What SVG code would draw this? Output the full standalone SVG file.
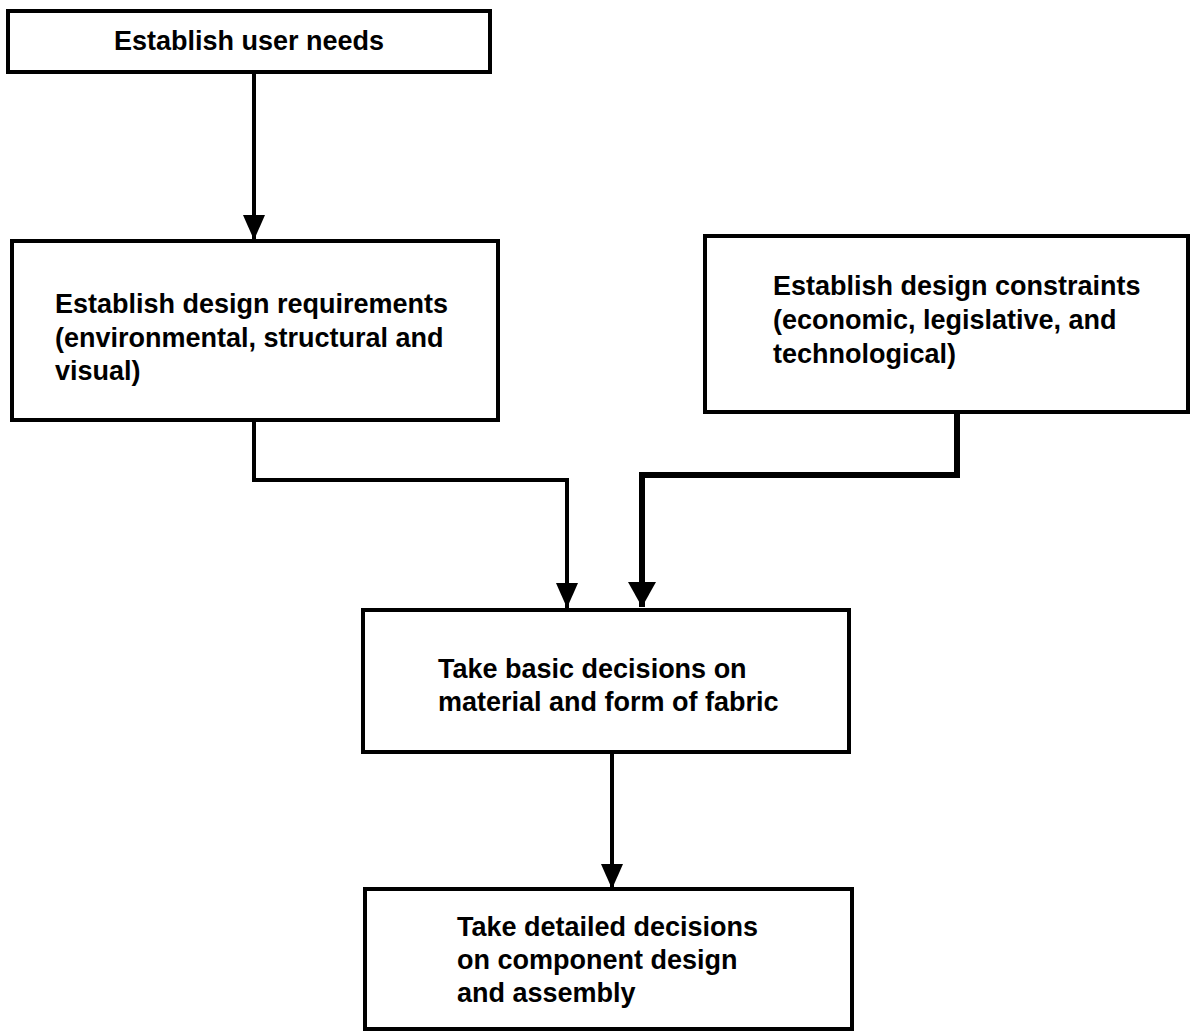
<svg xmlns="http://www.w3.org/2000/svg" width="1193" height="1034" viewBox="0 0 1193 1034">
  <style>
    .box { fill: #ffffff; stroke: #000000; stroke-width: 4; }
    .label { font-family: "Liberation Sans", Arial, Helvetica, sans-serif; font-size: 27px; font-weight: bold; fill: #000000; }
    .wire { fill: none; stroke: #000000; stroke-width: 4; stroke-linejoin: miter; }
    .wire-heavy { fill: none; stroke: #000000; stroke-width: 6; stroke-linejoin: miter; }
  </style>
  <defs>
    <marker id="head" markerUnits="userSpaceOnUse" markerWidth="25" markerHeight="22" refX="25" refY="11" orient="auto">
      <path d="M0,0 L25,11 L0,22 Z" fill="#000000"/>
    </marker>
    <marker id="head-wide" markerUnits="userSpaceOnUse" markerWidth="25" markerHeight="28" refX="25" refY="14" orient="auto">
      <path d="M0,0 L25,14 L0,28 Z" fill="#000000"/>
    </marker>
  </defs>

  <rect width="1193" height="1034" fill="#ffffff"/>

  <!-- connectors -->
  <g id="connectors">
    <path class="wire" d="M254,73 V240" marker-end="url(#head)"/>
    <path class="wire" d="M254,420 V480 H567 V608" marker-end="url(#head)"/>
    <path class="wire-heavy" d="M957,412 V475 H642 V607" marker-end="url(#head-wide)"/>
    <path class="wire" d="M612,752 V889" marker-end="url(#head)"/>
  </g>

  <!-- step: user needs -->
  <g id="user-needs">
    <rect class="box" x="8" y="11" width="482" height="61"/>
    <text class="label" x="249" y="50" text-anchor="middle">Establish user  needs</text>
  </g>

  <!-- step: design requirements -->
  <g id="design-requirements">
    <rect class="box" x="12" y="241" width="486" height="179"/>
    <text class="label" x="55" y="313">Establish design requirements</text>
    <text class="label" x="55" y="347">(environmental, structural and</text>
    <text class="label" x="55" y="380">visual)</text>
  </g>

  <!-- step: design constraints -->
  <g id="design-constraints">
    <rect class="box" x="705" y="236" width="483" height="176"/>
    <text class="label" x="773" y="295">Establish design constraints</text>
    <text class="label" x="773" y="329">(economic, legislative, and</text>
    <text class="label" x="773" y="363">technological)</text>
  </g>

  <!-- step: basic decisions -->
  <g id="basic-decisions">
    <rect class="box" x="363" y="610" width="486" height="142"/>
    <text class="label" x="438" y="678">Take basic decisions on</text>
    <text class="label" x="438" y="711">material and form of fabric</text>
  </g>

  <!-- step: detailed decisions -->
  <g id="detailed-decisions">
    <rect class="box" x="365" y="889" width="487" height="140"/>
    <text class="label" x="457" y="936">Take detailed  decisions</text>
    <text class="label" x="457" y="969">on component design</text>
    <text class="label" x="457" y="1002">and assembly</text>
  </g>
</svg>
